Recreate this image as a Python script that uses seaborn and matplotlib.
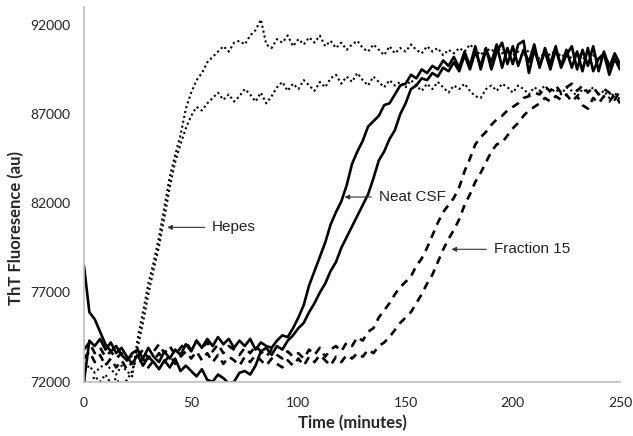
import numpy as np
import matplotlib
matplotlib.use("Agg")
import matplotlib.pyplot as plt
import seaborn as sns

# time grid (minutes), one reading every 2.5 min
time = np.arange(0, 250.1, 2.5)

hepes_1 = [
    72600, 72900, 72500, 72800, 73000, 72700, 72400, 72900, 72600, 72300,
    74400, 75900, 77500, 78700, 80100, 81800, 83500, 84700, 85800, 87300,
    88200, 88900, 89300, 89900, 90200, 90500, 90800, 90500, 91000, 91100,
    90900, 91400, 91700, 92300, 90900, 90700, 91200, 91000, 91400, 90800,
    91200, 90900, 91300, 91000, 91400, 90800, 91100, 90700, 91000, 90600,
    90900, 91100, 90700, 90500, 90900, 90600, 90300, 90800, 90400, 90700,
    90500, 90900, 90600, 90400, 90800, 90500, 90700, 90300, 90600, 90400,
    90700, 90500, 90900, 90600, 90300, 90700, 90500, 90800, 90400, 90600,
    90300, 90500, 90200, 90600, 90400, 90100, 90500, 90300, 90600, 90200,
    90400, 90100, 90500, 90200, 89900, 90300, 90000, 90400, 89800, 90100, 89700,
]
hepes_2 = [
    72100, 71800, 72300, 72000, 72400, 71900, 72200, 71700, 72100, 72600,
    73900, 75300, 76900, 78300, 79600, 81200, 82900, 84300, 85300, 86200,
    86900, 87400, 87200, 87600, 87900, 88200, 87800, 88100, 87700, 88000,
    88400, 88100, 87700, 88200, 87600, 88000, 88500, 88800, 88300, 88700,
    88400, 88900, 88600, 88300, 88800, 88500, 89000, 89200, 88700, 89100,
    88800, 89300, 88900, 88600, 89100, 88800, 88500, 88900, 88600, 88800,
    88500, 88900, 88600, 88300, 88700, 88400, 88800, 88500, 88200, 88600,
    88400, 88700, 88300, 88000, 87900, 88400, 88600, 88300, 88700, 88500,
    88200, 88600, 88400, 88100, 88500, 88300, 88600, 88200, 88400, 88100,
    88500, 88300, 88000, 88400, 88200, 88500, 88100, 88300, 87900, 88200, 87800,
]
csf_1 = [
    78500, 75900, 75500, 74800, 74100, 73700, 74000, 73500, 73200, 73600,
    73800, 73300, 73900, 73400, 73100, 73700, 73300, 73800, 73500, 74100,
    73700, 74300, 73900, 74400, 74000, 74500, 74100, 74400, 73900, 74300,
    74000, 74400, 73800, 74200, 74000, 73900, 74300, 74600, 74500, 75000,
    75600, 76300, 77400, 78200, 79000, 79800, 80800, 81500, 82100, 83000,
    84200, 84900, 85500, 86300, 86600, 86900, 87500, 87600, 88100, 88600,
    88700, 89200, 89000, 89500, 89300, 89700, 89500, 90000, 89700, 90200,
    89600, 90500, 89700, 90800, 89500, 90600, 89900, 90900, 89600, 90700,
    89800, 90900, 91100, 89300, 90600, 89700, 90500, 89500, 90600, 89700,
    90600, 89600, 90500, 89400, 90700, 89400, 90100, 90400, 89200, 90100, 89500,
]
csf_2 = [
    72000, 74300, 74000, 74400, 73800, 74200, 73600, 73900, 73400, 73000,
    73500, 72900, 73400, 73100, 72700, 73200, 72800, 73300, 72600, 72900,
    72600, 72300, 72700, 72100, 72000, 72400, 72200, 71900, 72000, 72500,
    72600, 72400, 72900, 73700, 73900, 73500, 74000, 73800, 74300, 74600,
    75000, 75300, 75900, 76400, 77000, 77500, 78200, 78700, 79500, 80100,
    80700, 81300, 81900, 82500, 83400, 84400, 84900, 85600, 86100, 87000,
    87600, 88400, 88600, 89000, 88900, 89300, 89100, 89600, 89400, 89900,
    89400, 90300, 89500, 90500, 89700, 90700, 89500, 90500, 91000, 89800,
    90800, 89700, 90600, 89900, 90900, 89600, 90700, 89800, 90800, 89600,
    90300, 90800, 89500, 90600, 89700, 90800, 89400, 90500, 89600, 90400, 89800,
]
fraction_1 = [
    73800, 74200, 73600, 73900, 73400, 73700, 73300, 73600, 73200, 73500,
    73400, 73800, 73300, 73700, 74100, 73600, 74000, 73500, 73900, 74200,
    73800, 74300, 73900, 74200, 73700, 74100, 73600, 74000, 73800, 73500,
    73900, 73600, 74000, 73700, 73400, 73800, 73500, 73300, 73700, 73400,
    73600, 73300, 73800, 73500, 73900, 73400, 73800, 74000, 73700, 74200,
    74000, 74500, 74300, 74800, 75000, 75600, 76000, 76400, 76900, 77300,
    77600, 77900, 78500, 78900, 79500, 80200, 80900, 81500, 81900, 82300,
    82900, 83800, 84500, 85300, 85700, 86000, 86400, 86700, 86900, 87200,
    87400, 87600, 87900, 88000, 88200, 88100, 88500, 88300, 88600, 88200,
    88500, 88700, 88300, 88600, 88200, 88500, 88100, 88400, 88200, 87800, 88300,
]
fraction_2 = [
    73300, 73700, 73100, 73500, 72900, 73300, 72800, 73200, 72700, 73100,
    72900, 73300, 72800, 73200, 73600, 73100, 73500, 73000, 73400, 73700,
    73300, 73700, 73200, 73600, 73100, 73500, 73000, 73400, 73200, 72900,
    73400, 73100, 73500, 73200, 72900, 73300, 73000, 72800, 73200, 72900,
    73300, 72900, 73400, 73100, 73500, 73200, 72900, 73400, 73100, 73500,
    73300, 73600, 73400, 73800, 73600, 74000, 74200, 74500, 74900, 75300,
    75600, 75900, 76400, 76900, 77500, 78000, 78700, 79400, 80000, 80500,
    81100, 81900, 82500, 83200, 83700, 84300, 84900, 85300, 85400, 85800,
    86200, 86500, 86900, 87200, 87400, 87600, 87900, 87700, 88000, 87800,
    88100, 87700, 88000, 87500, 87300, 87900, 87600, 88000, 87700, 88100, 87600,
]

sns.set_style("white")
plt.rcParams['font.family'] = ['Lato', 'DejaVu Sans']

fig = plt.figure(figsize=(6.33, 4.36), dpi=100)
ax = fig.add_axes([0.1327, 0.1245, 0.8468, 0.8595])

dotted = (0, (1, 1.4))
dashed = (0, (3, 2.4))
for series in [hepes_1, hepes_2]:
    sns.lineplot(x=time, y=series, ax=ax, color='black', lw=1.5,
                 linestyle=dotted, estimator=None, sort=False)
for series in [csf_1, csf_2]:
    sns.lineplot(x=time, y=series, ax=ax, color='black', lw=1.9,
                 estimator=None, sort=False)
for series in [fraction_1, fraction_2]:
    sns.lineplot(x=time, y=series, ax=ax, color='black', lw=1.9,
                 linestyle=dashed, estimator=None, sort=False)

ax.set_xlim(0, 250)
ax.set_ylim(72000, 93000)
ax.set_xticks([0, 50, 100, 150, 200, 250])
ax.set_yticks([72000, 77000, 82000, 87000, 92000])
ax.tick_params(axis='both', labelsize=10, colors='#222222', length=4,
               color='#bfbfbf', direction='out')
ax.tick_params(axis='x', pad=7)
ax.tick_params(axis='y', pad=6)
for side in ['top', 'right']:
    ax.spines[side].set_visible(False)
for side in ['left', 'bottom']:
    ax.spines[side].set_color('#bfbfbf')
    ax.spines[side].set_linewidth(1.2)

ax.set_xlabel('Time (minutes)', fontsize=12, fontweight='bold')
ax.set_ylabel('ThT Fluoresence (au)', fontsize=12, fontweight='bold')
ax.xaxis.set_label_coords(0.5, -0.09)
ax.yaxis.set_label_coords(-0.112, 0.41)

arrow = dict(arrowstyle='-|>', color='#333333', lw=0.8, mutation_scale=7,
             shrinkA=3, shrinkB=0)
label_font = dict(family='Liberation Sans', fontsize=11, color='#222222',
                  va='center', ha='left')
ax.annotate('Hepes', xy=(38.8, 80650), xytext=(59.8, 80650),
            arrowprops=arrow, **label_font)
ax.annotate('Neat CSF', xy=(121.5, 82350), xytext=(137.5, 82350),
            arrowprops=arrow, **label_font)
ax.annotate('Fraction 15', xy=(171.4, 79420), xytext=(191.1, 79420),
            arrowprops=arrow, **label_font)

plt.savefig('out.png', dpi=100)
